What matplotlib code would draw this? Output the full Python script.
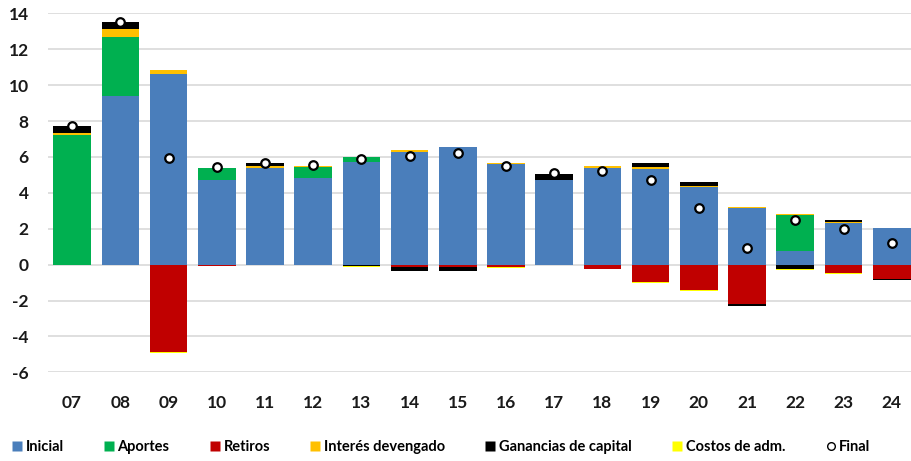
import numpy as np
import matplotlib
matplotlib.use("Agg")
import matplotlib.pyplot as plt
from matplotlib import font_manager
from matplotlib.lines import Line2D

plt.rcParams["axes.unicode_minus"] = False

categories = ["07", "08", "09", "10", "11", "12", "13", "14", "15", "16", "17", "18", "19", "20", "21", "22", "23", "24"]
inicial = [0, 9.4, 10.6, 4.72, 5.4, 4.8, 5.7, 6.3, 6.54, 5.61, 4.72, 5.4, 5.33, 4.35, 3.18, 0.78, 2.3, 2.03]
aportes = [7.22, 3.3, 0, 0.65, 0, 0.66, 0.28, 0, 0, 0, 0.02, 0, 0, 0, 0, 1.99, 0, 0]
retiros = [0, 0, -4.85, -0.08, 0, 0, 0, -0.15, -0.15, -0.15, 0, -0.22, -0.95, -1.41, -2.2, 0, -0.45, -0.8]
interes = [0.13, 0.4, 0.25, 0.02, 0.1, 0.04, 0.03, 0.1, 0.03, 0.03, 0, 0.1, 0.13, 0.03, 0.04, 0.04, 0.1, 0]
ganancias = [0.37, 0.4, 0, 0, 0.15, 0, -0.1, -0.2, -0.2, 0.05, 0.33, 0, 0.2, 0.22, -0.08, -0.22, 0.1, -0.05]
costos = [0, 0, -0.05, -0.02, 0, 0, -0.04, -0.03, -0.03, -0.03, 0, -0.03, -0.05, -0.05, 0, -0.06, -0.05, 0]
final = [7.74, 13.54, 5.96, 5.42, 5.65, 5.55, 5.89, 6.07, 6.24, 5.5, 5.09, 5.24, 4.72, 3.18, 0.95, 2.49, 1.97, 1.23]
yticks = [-6, -4, -2, 0, 2, 4, 6, 8, 10, 12, 14]

series_names = ["Inicial", "Aportes", "Retiros", "Interés devengado", "Ganancias de capital", "Costos de adm."]
series_vals = [inicial, aportes, retiros, interes, ganancias, costos]
colors = ["#4a7ebb", "#00b050", "#c00000", "#ffc000", "#000000", "#ffff00"]

avail = {f.name for f in font_manager.fontManager.ttflist}
tick_font = "Lato" if "Lato" in avail else "DejaVu Sans"

fig = plt.figure(figsize=(9.11, 4.61), dpi=100)
ax = fig.add_axes([48/911, 1-372.4/461, 863/911, (372.4-13.3)/461])

x = np.arange(len(categories))
pos_base = np.zeros(len(categories))
neg_base = np.zeros(len(categories))
handles = []
for name, vals, c in zip(series_names, series_vals, colors):
    v = np.array(vals, dtype=float)
    bottoms = np.where(v >= 0, pos_base, neg_base)
    ax.bar(x, v, width=0.78, bottom=bottoms, color=c, zorder=2, linewidth=0)
    pos_base = pos_base + np.where(v > 0, v, 0)
    neg_base = neg_base + np.where(v < 0, v, 0)
    handles.append(Line2D([], [], marker="s", linestyle="none", markersize=6.5,
                          markerfacecolor=c, markeredgecolor="none", label=name))

ax.scatter(x, final, s=38, facecolor="white", edgecolor="black", linewidth=1.6, zorder=4)
handles.append(Line2D([], [], marker="o", linestyle="none", markersize=5.5,
                      markerfacecolor="white", markeredgecolor="black", markeredgewidth=1, label="Final"))

ax.set_xlim(-0.5, 17.4)
ax.set_ylim(-6, 14)
ax.set_yticks(yticks)
ax.set_xticks(x)
ax.set_xticklabels(categories)
ax.grid(axis="y", color="#d9d9d9", linewidth=1.2, zorder=0)
ax.set_axisbelow(True)
for s in ax.spines.values():
    s.set_visible(False)
ax.tick_params(length=0, labelsize=12.5, colors="#1a1a1a")
ax.tick_params(axis="x", pad=16)
ax.tick_params(axis="y", pad=14)
for lab in ax.get_xticklabels() + ax.get_yticklabels():
    lab.set_fontfamily(tick_font)
    lab.set_fontweight("bold")

fig.legend(handles=handles, loc="center", bbox_to_anchor=(0.483, 1-447/461), ncol=7,
           frameon=False, handletextpad=0.1, handlelength=1.0, columnspacing=2.6,
           prop={"family": tick_font, "weight": "bold", "size": 10.5})

fig.savefig("out.png", dpi=100)
